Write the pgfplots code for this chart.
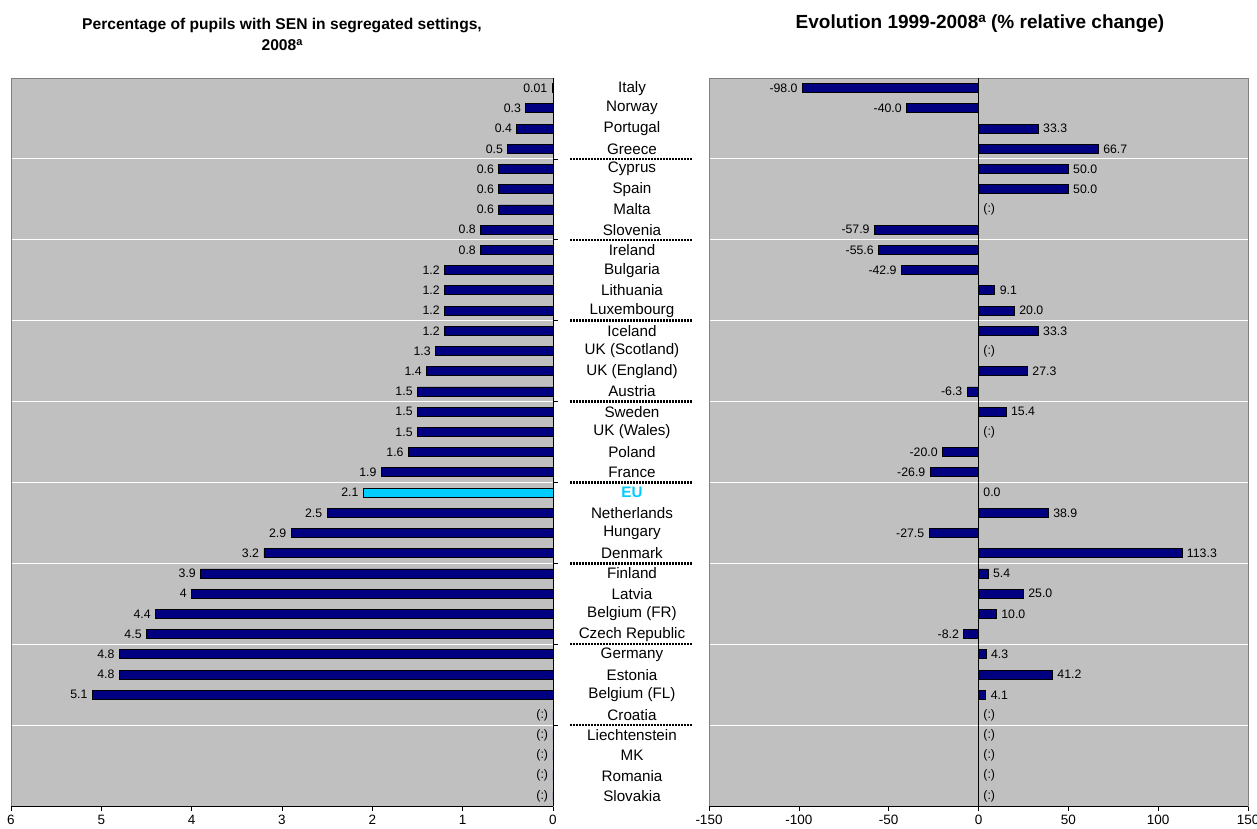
\documentclass[border=0pt]{standalone}
\usepackage{pgfplots}
\pgfplotsset{compat=1.18}
\usepackage{pgfplotstable}
\usepackage{fontspec}
\setmainfont{Liberation Sans}
\definecolor{bgc}{RGB}{192,192,192}
\definecolor{navyc}{RGB}{0,0,128}
\definecolor{euc}{RGB}{0,204,255}
\definecolor{framec}{RGB}{128,128,128}

\pgfplotstableread{
idx val lab
1 0.01 0.01
2 0.3 0.3
3 0.4 0.4
4 0.5 0.5
5 0.6 0.6
6 0.6 0.6
7 0.6 0.6
8 0.8 0.8
9 0.8 0.8
10 1.2 1.2
11 1.2 1.2
12 1.2 1.2
13 1.2 1.2
14 1.3 1.3
15 1.4 1.4
16 1.5 1.5
17 1.5 1.5
18 1.5 1.5
19 1.6 1.6
20 1.9 1.9
22 2.5 2.5
23 2.9 2.9
24 3.2 3.2
25 3.9 3.9
26 4 4
27 4.4 4.4
28 4.5 4.5
29 4.8 4.8
30 4.8 4.8
31 5.1 5.1
32 0 (:)
33 0 (:)
34 0 (:)
35 0 (:)
36 0 (:)
}\lefttab

% right panel: negative changes
\pgfplotstableread{
idx val lab
1 -98.0 -98.0
2 -40.0 -40.0
8 -57.9 -57.9
9 -55.6 -55.6
10 -42.9 -42.9
16 -6.3 -6.3
19 -20.0 -20.0
20 -26.9 -26.9
23 -27.5 -27.5
28 -8.2 -8.2
}\rightneg

% right panel: positive / zero / not available
\pgfplotstableread{
idx val lab
3 33.3 33.3
4 66.7 66.7
5 50.0 50.0
6 50.0 50.0
7 0 (:)
11 9.1 9.1
12 20.0 20.0
13 33.3 33.3
14 0 (:)
15 27.3 27.3
17 15.4 15.4
18 0 (:)
21 0 0.0
22 38.9 38.9
24 113.3 113.3
25 5.4 5.4
26 25.0 25.0
27 10.0 10.0
29 4.3 4.3
30 41.2 41.2
31 4.1 4.1
32 0 (:)
33 0 (:)
34 0 (:)
35 0 (:)
36 0 (:)
}\rightpos

\pgfplotsset{
  panel/.style={
    scale only axis, height=728pt,
    y dir=reverse, ymin=0.5, ymax=36.5,
    axis background/.style={fill=bgc},
    axis line style={framec},
    xbar, bar width=9pt, bar shift=0pt,
    ytick={4.5,8.5,...,32.5}, yticklabels={},
    ymajorgrids, major grid style={white, line width=0.8pt},
    tick align=outside, major tick length=5pt,
    xtick pos=bottom,
    xtick style={black, line width=0.6pt},
    xticklabel style={font=\fontsize{13.5}{15}\selectfont, yshift=-1pt},
    /pgf/number format/assume math mode=true,
    point meta=explicit symbolic,
    nodes near coords,
    every node near coord/.append style={font=\fontsize{12.3}{14}\selectfont, inner xsep=4.5pt, inner ysep=2pt, text=black},
    clip=false,
  }
}

\begin{document}
\begin{tikzpicture}
\useasboundingbox (0,0) rectangle (1257pt,828pt);

\node[font=\bfseries\fontsize{15.6}{19}\selectfont, anchor=base] at (282pt,798pt)
  {Percentage of pupils with SEN in segregated settings,};
\node[font=\bfseries\fontsize{15.6}{19}\selectfont, anchor=base] at (282pt,777pt)
  {2008\raisebox{5.5pt}{\fontsize{11}{11}\selectfont a}};
\node[font=\bfseries\fontsize{19}{22}\selectfont, anchor=base] at (980pt,799pt)
  {Evolution 1999-2008\raisebox{6.6pt}{\fontsize{13.5}{13.5}\selectfont a} (\% relative change)};

\begin{axis}[panel, at={(11pt,22pt)}, anchor=south west, width=542pt,
  x dir=reverse, xmin=0, xmax=6, xtick={0,1,2,3,4,5,6},
  ytick pos=right, yticklabel pos=right,
  ytick style={black, line width=0.6pt},
  extra y ticks={1,2,...,36},
  extra y tick labels={Italy,Norway,Portugal,Greece,Cyprus,Spain,Malta,Slovenia,Ireland,Bulgaria,Lithuania,Luxembourg,Iceland,UK (Scotland),UK (England),Austria,Sweden,UK (Wales),Poland,France,{\textcolor{euc}{\textbf{EU}}},Netherlands,Hungary,Denmark,Finland,Latvia,Belgium (FR),Czech Republic,Germany,Estonia,Belgium (FL),Croatia,Liechtenstein,MK,Romania,Slovakia},
  extra y tick style={grid=none, major tick length=0pt, tick style={draw=none},
    yticklabel style={anchor=center, xshift=79pt, font=\fontsize{15.2}{17}\selectfont}},
  every node near coord/.append style={anchor=east},
]
\addplot[fill=navyc, draw=black, line width=0.8pt] table[x=val, y=idx, meta=lab] {\lefttab};
\addplot[fill=euc, draw=black, line width=0.8pt] coordinates {(2.1,21) [2.1]};
\draw[black, line width=0.8pt] (axis cs:6,36.5) -- (axis cs:0,36.5);
\draw[black, line width=0.8pt] (axis cs:0,0.5) -- (axis cs:0,36.5);
\pgfplotsinvokeforeach{4.5,8.5,12.5,16.5,20.5,24.5,28.5,32.5}{
  \draw[black, line width=2.4pt, dash pattern=on 1.4pt off 1.6pt] (axis cs:-0.19,#1) -- (axis cs:-1.54,#1);
}
\end{axis}

\begin{axis}[panel, at={(709pt,22pt)}, anchor=south west, width=539pt,
  xmin=-150, xmax=150, xtick={-150,-100,...,150},
  ytick style={draw=none},
]
\addplot[fill=navyc, draw=black, line width=0.8pt,
  every node near coord/.append style={anchor=east}] table[x=val, y=idx, meta=lab] {\rightneg};
\addplot[fill=navyc, draw=black, line width=0.8pt,
  every node near coord/.append style={anchor=west}] table[x=val, y=idx, meta=lab] {\rightpos};
\draw[black, line width=0.8pt] (axis cs:-150,36.5) -- (axis cs:150,36.5);
\draw[black, line width=0.8pt] (axis cs:0,0.5) -- (axis cs:0,36.5);
\end{axis}
\end{tikzpicture}
\end{document}
